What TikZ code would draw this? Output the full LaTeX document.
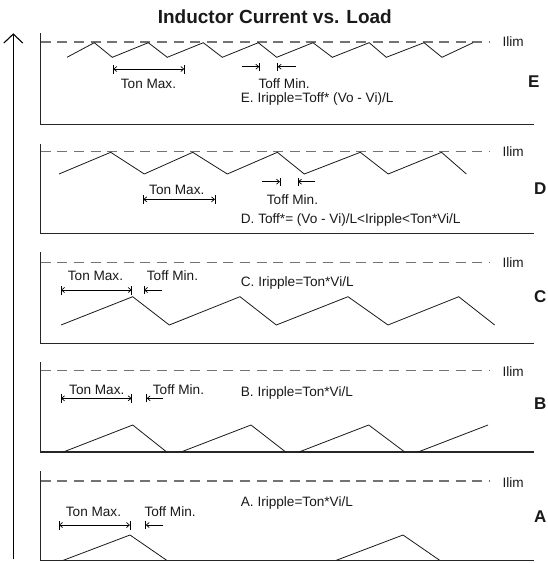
\documentclass[tikz,border=0pt]{standalone}
\usepackage{fontspec}
\setmainfont{Liberation Sans}
\usetikzlibrary{arrows.meta}
\begin{document}
\begin{tikzpicture}[x=1pt,y=-1pt,
  frame/.style={line width=1.2pt, draw=black!85},
  wave/.style={line width=0.8pt, line join=miter, draw=black!90},
  ilimline/.style={dash pattern=on 10pt off 6.6pt, line width=1.3pt, draw=black!55},
  lbl/.style={inner sep=0pt, anchor=base west, font=\fontsize{13.6}{16}\selectfont, text=black!90},
  panellbl/.style={inner sep=0pt, anchor=base west, font=\fontsize{17}{20}\selectfont\bfseries, text=black!90},
  dimline/.style={line width=0.7pt, {Straight Barb[length=3pt,width=5pt]}-{Straight Barb[length=3pt,width=5pt]}},
  onearrow/.style={line width=0.7pt, -{Straight Barb[length=3pt,width=5pt]}},
  tickmark/.style={line width=0.7pt}
]
\useasboundingbox (0,0) rectangle (547,563);

% vertical axis arrow
\coordinate (ybot) at (13.3,559.3);
\coordinate (ytop) at (13.3,33.3);
\draw[line width=1.1pt, -{Straight Barb[length=9pt,width=19pt]}] (ybot) -- (ytop);

% title
\node[inner sep=0pt, anchor=base, font=\fontsize{19}{22}\selectfont\bfseries, text=black!90] (title) at (274.8,23.3) {Inductor Current vs. Load};

% ================= E =================
\coordinate (Etop) at (40.7,33.3); \coordinate (Eorg) at (40.7,124.3); \coordinate (Eend) at (533.7,124.3);
\draw[frame] (Etop) -- (Eorg) -- (Eend);
\coordinate (Ed0) at (40.7,42); \coordinate (Ed1) at (489.7,42);
\draw[ilimline] (Ed0) -- (Ed1);
\node[lbl] (Eilim) at (502.3,46.9) {Ilim};
\draw[wave] (67,57.3)--(94.3,42.7)--(112.3,57.3)--(148.3,42.7)--(167.3,57.3)--(203.3,42.7)--(222.3,57.3)--(258.3,42.7)--(276.7,57.3)--(313,42.7)--(332.3,57.3)--(369.2,42.7)--(386.3,57.3)--(424,42.7)--(442,57.3)--(473,42.7);
\coordinate (Eta) at (113.3,69); \coordinate (Etb) at (184.3,69);
\draw[dimline] (Eta) -- (Etb);
\draw[tickmark] ([yshift=-4.5pt]Eta) -- ([yshift=4.5pt]Eta);
\draw[tickmark] ([yshift=-4.5pt]Etb) -- ([yshift=4.5pt]Etb);
\node[lbl] (Eton) at (120.7,88.3) {Ton Max.};
\coordinate (Efa0) at (242.3,66.7); \coordinate (Efa1) at (259.3,66.7);
\coordinate (Efb0) at (295.7,66.7); \coordinate (Efb1) at (277.7,66.7);
\draw[onearrow] (Efa0) -- (Efa1);
\draw[onearrow] (Efb0) -- (Efb1);
\draw[tickmark] ([yshift=-4pt]Efa1) -- ([yshift=4pt]Efa1);
\draw[tickmark] ([yshift=-4pt]Efb1) -- ([yshift=4pt]Efb1);
\node[lbl] (Etoff) at (258.3,88.3) {Toff Min.};
\node[lbl] (Eeq) at (240.7,102) {E. Iripple=Toff* (Vo - Vi)/L};
\node[panellbl] (Elab) at (528,87.3) {E};

% ================= D =================
\coordinate (Dtop) at (40.7,144); \coordinate (Dorg) at (40.7,233.3); \coordinate (Dend) at (533.7,233.3);
\draw[frame] (Dtop) -- (Dorg) -- (Dend);
\coordinate (Dd0) at (40.7,151.5); \coordinate (Dd1) at (489.7,151.5);
\draw[ilimline] (Dd0) -- (Dd1);
\node[lbl] (Dilim) at (502.3,156.4) {Ilim};
\draw[wave] (59,174)--(110.7,152.3)--(144.3,174)--(192.7,152.3)--(227.3,174)--(277.4,152.3)--(304.3,174)--(360.3,152.3)--(388.2,174)--(441.5,152.3)--(466.4,174);
\coordinate (Dta) at (143.3,199.3); \coordinate (Dtb) at (215,199.3);
\draw[dimline] (Dta) -- (Dtb);
\draw[tickmark] ([yshift=-4.5pt]Dta) -- ([yshift=4.5pt]Dta);
\draw[tickmark] ([yshift=-4.5pt]Dtb) -- ([yshift=4.5pt]Dtb);
\node[lbl] (Dton) at (149,194.2) {Ton Max.};
\coordinate (Dfa0) at (261.7,181.7); \coordinate (Dfa1) at (280,181.7);
\coordinate (Dfb0) at (315,181.7); \coordinate (Dfb1) at (298,181.7);
\draw[onearrow] (Dfa0) -- (Dfa1);
\draw[onearrow] (Dfb0) -- (Dfb1);
\draw[tickmark] ([yshift=-4pt]Dfa1) -- ([yshift=4pt]Dfa1);
\draw[tickmark] ([yshift=-4pt]Dfb1) -- ([yshift=4pt]Dfb1);
\node[lbl] (Dtoff) at (266.7,204.2) {Toff Min.};
\node[lbl] (Deq) at (240.7,223.2) {D. Toff*= (Vo - Vi)/L<Iripple<Ton*Vi/L};
\node[panellbl] (Dlab) at (533.8,194.3) {D};

% ================= C =================
\coordinate (Ctop) at (40.7,252.3); \coordinate (Corg) at (40.7,343.3); \coordinate (Cend) at (533.7,343.3);
\draw[frame] (Ctop) -- (Corg) -- (Cend);
\coordinate (Cd0) at (40.7,262.3); \coordinate (Cd1) at (489.7,262.3);
\draw[ilimline] (Cd0) -- (Cd1);
\node[lbl] (Cilim) at (502.3,267.5) {Ilim};
\draw[wave] (61,325)--(132.7,296.7)--(169.3,325)--(240,296.7)--(276.3,325)--(348,296.7)--(388,325)--(458.7,296.7)--(494.7,325);
\coordinate (Cta) at (61,290); \coordinate (Ctb) at (131.7,290);
\draw[dimline] (Cta) -- (Ctb);
\draw[tickmark] ([yshift=-4.5pt]Cta) -- ([yshift=4.5pt]Cta);
\draw[tickmark] ([yshift=-4.5pt]Ctb) -- ([yshift=4.5pt]Ctb);
\node[lbl] (Cton) at (67.7,280.9) {Ton Max.};
\coordinate (Cfb0) at (161.7,290); \coordinate (Cfb1) at (144,290);
\draw[onearrow] (Cfb0) -- (Cfb1);
\draw[tickmark] ([yshift=-4pt]Cfb1) -- ([yshift=4pt]Cfb1);
\node[lbl] (Ctoff) at (146.7,280.9) {Toff Min.};
\node[lbl] (Ceq) at (240.7,286.5) {C. Iripple=Ton*Vi/L};
\node[panellbl] (Clab) at (534,302) {C};

% ================= B =================
\coordinate (Btop) at (40.7,362); \coordinate (Borg) at (40.7,452); \coordinate (Bend) at (533.7,452);
\draw[frame] (Btop) -- (Borg) -- (Bend);
\coordinate (Bd0) at (40.7,370.3); \coordinate (Bd1) at (489.7,370.3);
\draw[ilimline] (Bd0) -- (Bd1);
\node[lbl] (Bilim) at (502.3,376.2) {Ilim};
\draw[wave] (63.3,452)--(132.7,425)--(166.7,452);
\draw[wave] (181,452)--(251,425)--(285.7,452);
\draw[wave] (299,452)--(368.7,425)--(404.7,452);
\draw[wave] (418,452)--(488,425);
\coordinate (Bta) at (61,398.3); \coordinate (Btb) at (131.7,398.3);
\draw[dimline] (Bta) -- (Btb);
\draw[tickmark] ([yshift=-4.5pt]Bta) -- ([yshift=4.5pt]Bta);
\draw[tickmark] ([yshift=-4.5pt]Btb) -- ([yshift=4.5pt]Btb);
\node[lbl] (Bton) at (69,394.2) {Ton Max.};
\coordinate (Bfb0) at (163.3,398.3); \coordinate (Bfb1) at (146.7,398.3);
\draw[onearrow] (Bfb0) -- (Bfb1);
\draw[tickmark] ([yshift=-4pt]Bfb1) -- ([yshift=4pt]Bfb1);
\node[lbl] (Btoff) at (152.7,394.2) {Toff Min.};
\node[lbl] (Beq) at (240.7,396) {B. Iripple=Ton*Vi/L};
\node[panellbl] (Blab) at (534,409.7) {B};

% ================= A =================
\coordinate (Atop) at (40.7,471); \coordinate (Aorg) at (40.7,560.3); \coordinate (Aend) at (533.7,560.3);
\draw[frame] (Atop) -- (Aorg) -- (Aend);
\coordinate (Ad0) at (40.7,481); \coordinate (Ad1) at (489.7,481);
\draw[ilimline] (Ad0) -- (Ad1);
\node[lbl] (Ailim) at (502.3,487.5) {Ilim};
\draw[wave] (63.3,560.3)--(130,535)--(166.7,560.3);
\draw[wave] (336.3,560.3)--(403,535)--(439.7,560.3);
\coordinate (Ata) at (59,525); \coordinate (Atb) at (130,525);
\draw[dimline] (Ata) -- (Atb);
\draw[tickmark] ([yshift=-4.5pt]Ata) -- ([yshift=4.5pt]Ata);
\draw[tickmark] ([yshift=-4.5pt]Atb) -- ([yshift=4.5pt]Atb);
\node[lbl] (Aton) at (65.7,516) {Ton Max.};
\coordinate (Afb0) at (163.3,525); \coordinate (Afb1) at (145.7,525);
\draw[onearrow] (Afb0) -- (Afb1);
\draw[tickmark] ([yshift=-4pt]Afb1) -- ([yshift=4pt]Afb1);
\node[lbl] (Atoff) at (144.3,516) {Toff Min.};
\node[lbl] (Aeq) at (240.7,506) {A. Iripple=Ton*Vi/L};
\node[panellbl] (Alab) at (534,522) {A};
\end{tikzpicture}
\end{document}
